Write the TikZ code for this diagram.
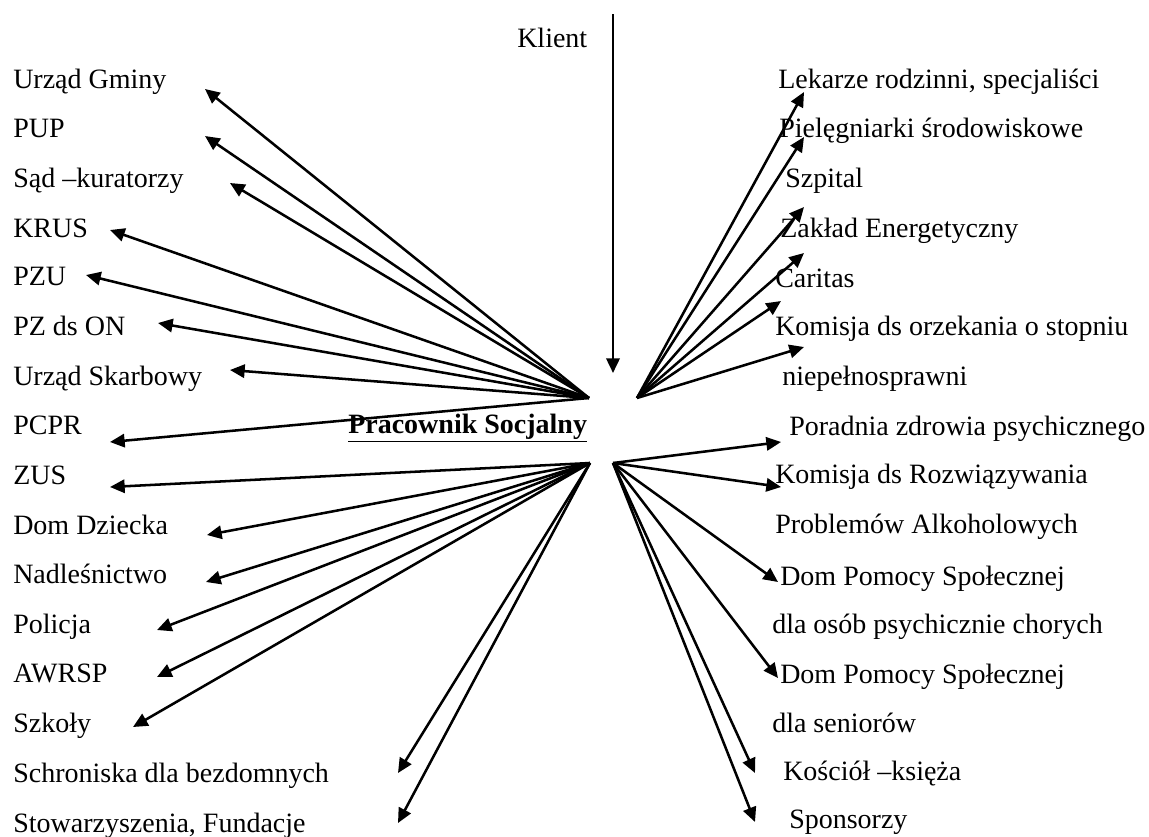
\documentclass[tikz,border=0pt]{standalone}
\usepackage{fontspec}
\setmainfont{Liberation Serif}
\usetikzlibrary{arrows.meta}
\begin{document}
\begin{tikzpicture}[x=0.75pt,y=-0.75pt,
  lbl/.style={anchor=base west,inner sep=0pt,font=\fontsize{21}{24}\selectfont},
  arr/.style={line width=1.9pt,-{Triangle[length=11pt,width=10pt]}}]
\useasboundingbox (0,0) rectangle (1149,836);
% centre and client
\node[lbl] (ps) at (348,433) {\underline{\textbf{Pracownik Socjalny}}};
\node[lbl] (kl) at (517,47) {Klient};
\coordinate (kltop) at (613,14);
\coordinate (kltip) at (613,373);
\coordinate (oUL) at (589,398);
\coordinate (oUR) at (637,398);
\coordinate (oLL) at (590,463);
\coordinate (oLR) at (613,463);
% left labels
\node[lbl] (l1) at (13,88) {Urząd Gminy};
\node[lbl] (l2) at (13,137) {PUP};
\node[lbl] (l3) at (13,187) {Sąd –kuratorzy};
\node[lbl] (l4) at (13,237) {KRUS};
\node[lbl] (l5) at (13,285) {PZU};
\node[lbl] (l6) at (13,335) {PZ ds ON};
\node[lbl] (l7) at (13,385) {Urząd Skarbowy};
\node[lbl] (l8) at (13,434) {PCPR};
\node[lbl] (l9) at (13,484) {ZUS};
\node[lbl] (l10) at (13,534) {Dom Dziecka};
\node[lbl] (l11) at (13,583) {Nadleśnictwo};
\node[lbl] (l12) at (13,633) {Policja};
\node[lbl] (l13) at (13,682) {AWRSP};
\node[lbl] (l14) at (13,732) {Szkoły};
\node[lbl] (l15) at (13,782) {Schroniska dla bezdomnych};
\node[lbl] (l16) at (13,832) {Stowarzyszenia, Fundacje};
% right labels
\node[lbl] (r1) at (778,88) {Lekarze rodzinni, specjaliści};
\node[lbl] (r2) at (779,137) {Pielęgniarki środowiskowe};
\node[lbl] (r3) at (785,187) {Szpital};
\node[lbl] (r4) at (780,237) {Zakład Energetyczny};
\node[lbl] (r5) at (775,287) {Caritas};
\node[lbl] (r6) at (775,335) {Komisja ds orzekania o stopniu};
\node[lbl] (r7) at (782,385) {niepełnosprawni};
\node[lbl] (r8) at (789,435) {Poradnia zdrowia psychicznego};
\node[lbl] (r9) at (775,483) {Komisja ds Rozwiązywania};
\node[lbl] (r10) at (775,533) {Problemów Alkoholowych};
\node[lbl] (r11) at (780,585) {Dom Pomocy Społecznej};
\node[lbl] (r12) at (772,633) {dla osób psychicznie chorych};
\node[lbl] (r13) at (780,683) {Dom Pomocy Społecznej};
\node[lbl] (r14) at (772,732) {dla seniorów};
\node[lbl] (r15) at (783,780) {Kościół –księża};
\node[lbl] (r16) at (789,828) {Sponsorzy};
% arrow tips
\coordinate (t1) at (205,89);
\coordinate (t2) at (205,136);
\coordinate (t3) at (230,183);
\coordinate (t4) at (110,230);
\coordinate (t5) at (86,275);
\coordinate (t6) at (158,323);
\coordinate (t7) at (230,370);
\coordinate (t8) at (110,442);
\coordinate (t9) at (110,487);
\coordinate (t10) at (207,535);
\coordinate (t11) at (206,582);
\coordinate (t12) at (157,630);
\coordinate (t13) at (157,677);
\coordinate (t14) at (133,727);
\coordinate (t15) at (398,773);
\coordinate (t16) at (398,823);
\coordinate (s1) at (804,92);
\coordinate (s2) at (804,137);
\coordinate (s3) at (804,207);
\coordinate (s4) at (804,253);
\coordinate (s5) at (781,301);
\coordinate (s6) at (804,347);
\coordinate (s7) at (781,442);
\coordinate (s8) at (781,487);
\coordinate (s9) at (778,582);
\coordinate (s10) at (778,678);
\coordinate (s11) at (755,773);
\coordinate (s12) at (755,822);
% connectors
\draw[arr] (kltop) -- (kltip);
\foreach \t in {t1,t2,t3,t4,t5,t6,t7,t8} \draw[arr] (oUL) -- (\t);
\foreach \t in {t9,t10,t11,t12,t13,t14,t15,t16} \draw[arr] (oLL) -- (\t);
\foreach \t in {s1,s2,s3,s4,s5,s6} \draw[arr] (oUR) -- (\t);
\foreach \t in {s7,s8,s9,s10,s11,s12} \draw[arr] (oLR) -- (\t);
\end{tikzpicture}
\end{document}
